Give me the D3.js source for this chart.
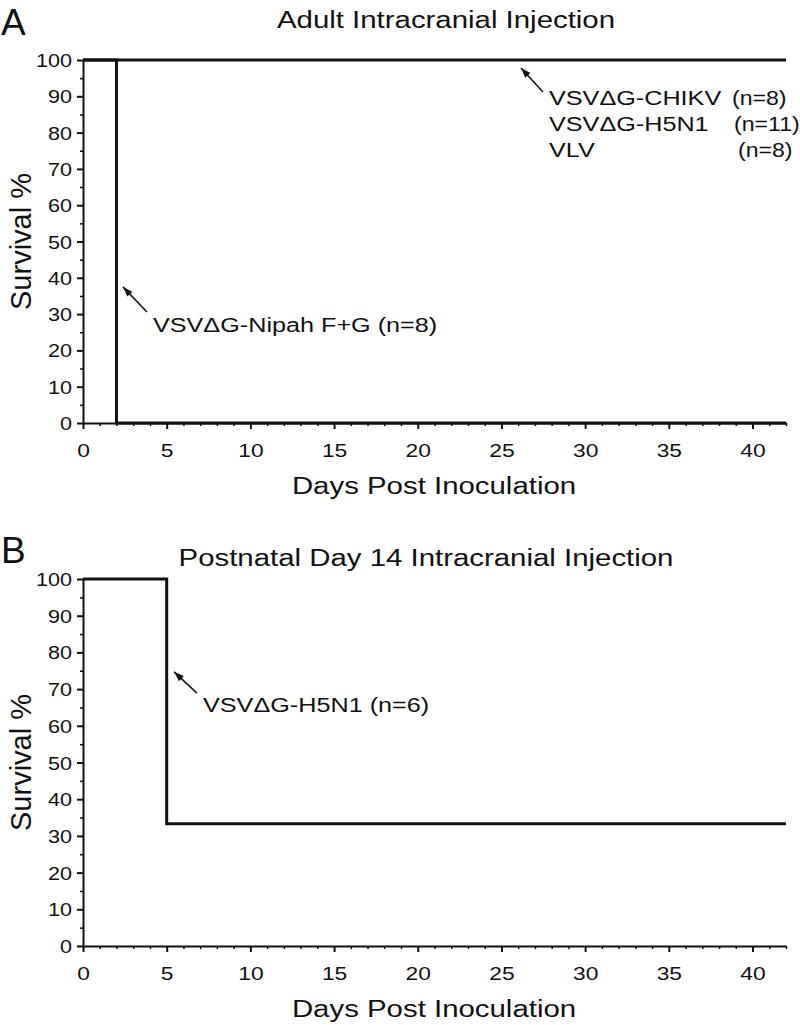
<!DOCTYPE html>
<html><head><meta charset="utf-8">
<script src="https://cdn.jsdelivr.net/npm/d3@7"></script>
<style>body{margin:0;background:#fff}svg{display:block}text{font-family:"Liberation Sans",Arial,sans-serif;fill:#111}</style>
</head><body>
<svg id="c" width="800" height="1025"></svg>
<script>
// ---- data ----
const xTicks = [0,5,10,15,20,25,30,35,40];
const yTicks = [0,10,20,30,40,50,60,70,80,90,100];
const panelTitles = ["Adult Intracranial Injection", "Postnatal Day 14 Intracranial Injection"];
const panelLetters = ["A","B"];
// Panel A survival curves: [day, survival %]
const survA_survivors = [[0,100],[42,100]];           // VSVΔG-CHIKV, VSVΔG-H5N1, VLV
const survA_nipah = [[0,100],[2,100],[2,0],[42,0]];   // VSVΔG-Nipah F+G
// Panel B
const survB_h5n1 = [[0,100],[5,100],[5,33.33],[42,33.33]];
const legendNamesA = ["VSVΔG-CHIKV","VSVΔG-H5N1","VLV"];
const legendNsA = ["(n=8)","(n=11)","(n=8)"];
const labelNipah = "VSVΔG-Nipah F+G (n=8)";
const labelB = "VSVΔG-H5N1 (n=6)";

const svg = d3.select("#c");
const SX = 1.2;

function stext(g, x, y, str, size, anchor, sx){
  return g.append("text").attr("transform",`translate(${x},${y}) scale(${sx||SX},1)`)
    .attr("font-size",size).attr("text-anchor",anchor||"start").text(str);
}
function arrow(g, x1,y1,x2,y2){
  g.append("line").attr("x1",x1).attr("y1",y1).attr("x2",x2).attr("y2",y2)
    .attr("stroke","#111").attr("stroke-width",1.5);
  const a = Math.atan2(y2-y1,x2-x1), L=10, W=3.5;
  const bx = x2 - L*Math.cos(a), by = y2 - L*Math.sin(a);
  const px = -Math.sin(a)*W, py = Math.cos(a)*W;
  g.append("path").attr("d",`M${x2},${y2}L${bx+px},${by+py}L${bx-px},${by-py}Z`).attr("fill","#111");
}

function panel(top, bottom, idx, titleX, titleY, letterY){
  const x = d3.scaleLinear().domain([0,42]).range([83,786]);
  const y = d3.scaleLinear().domain([0,100]).range([bottom, top]);
  const g = svg.append("g");
  // y axis
  const ya = g.append("g").attr("transform",`translate(${x(0)},0)`)
    .call(d3.axisLeft(y).tickValues(yTicks).tickSize(6).tickSizeOuter(0));
  ya.select(".domain").attr("stroke-width",2).attr("stroke","#111");
  ya.selectAll(".tick line").attr("stroke-width",2).attr("stroke","#111");
  ya.selectAll(".tick text").attr("x",null).attr("dy",null)
    .attr("transform",`translate(-11,6.5) scale(${SX},1)`).attr("font-size",18).attr("fill","#111");
  const ym = g.append("g").attr("transform",`translate(${x(0)},0)`)
    .call(d3.axisLeft(y).tickValues(d3.range(5,100,10)).tickSize(3).tickFormat(""));
  ym.select(".domain").remove();
  ym.selectAll(".tick line").attr("stroke-width",1.5).attr("stroke","#111");
  // x axis
  const xa = g.append("g").attr("transform",`translate(0,${y(0)})`)
    .call(d3.axisBottom(x).tickValues(xTicks).tickSize(6).tickSizeOuter(0));
  xa.select(".domain").attr("stroke-width",2).attr("stroke","#111");
  xa.selectAll(".tick line").attr("stroke-width",2).attr("stroke","#111");
  xa.selectAll(".tick text").attr("y",null).attr("dy",null)
    .attr("transform",`translate(0,34) scale(${SX},1)`).attr("font-size",19).attr("fill","#111");
  const xm = g.append("g").attr("transform",`translate(0,${y(0)})`)
    .call(d3.axisBottom(x).tickValues(d3.range(1,43).filter(d=>d%5!==0)).tickSize(3).tickFormat(""));
  xm.select(".domain").remove();
  xm.selectAll(".tick line").attr("stroke-width",1.5).attr("stroke","#111");
  // titles
  stext(g, titleX, titleY, panelTitles[idx], 24.5, "middle");
  stext(g, 434, bottom+71, "Days Post Inoculation", 24.5, "middle");
  g.append("text").attr("transform",`translate(31,${(top+bottom)/2}) rotate(-90)`)
    .attr("font-size",29).attr("text-anchor","middle").text("Survival %");
  g.append("text").attr("x",1).attr("y",letterY).attr("font-size",37).text(panelLetters[idx]);
  return {g,x,y};
}

const line = (x,y)=>d3.line().x(d=>x(d[0])).y(d=>y(d[1]));

// Panel A
const A = panel(60, 423, 0, 446, 28, 35);
A.g.append("path").datum(survA_nipah).attr("d",line(A.x,A.y)).attr("fill","none").attr("stroke","#111").attr("stroke-width",3);
A.g.append("path").datum(survA_survivors).attr("d",line(A.x,A.y)).attr("fill","none").attr("stroke","#111").attr("stroke-width",3);
arrow(A.g, A.x(27.48), A.y(91.2), A.x(26.17), A.y(97.8));
const nX = [732,734,738];
legendNamesA.forEach((n,i)=>{
  stext(A.g, A.x(27.84), A.y(87.6) + i*26, n, 21, "start", 1.2);
  stext(A.g, nX[i], A.y(87.6) + i*26, legendNsA[i], 21, "start", 1.1);
});
arrow(A.g, A.x(3.82), A.y(30.6), A.x(2.39), A.y(37.5));
stext(A.g, A.x(4.18), A.y(25.1), labelNipah, 21);

// Panel B
const B = panel(579, 946, 1, 426, 566, 563);
B.g.append("path").datum(survB_h5n1).attr("d",line(B.x,B.y)).attr("fill","none").attr("stroke","#111").attr("stroke-width",3);
arrow(B.g, B.x(6.81), B.y(68.9), B.x(5.44), B.y(74.7));
stext(B.g, B.x(7.17), B.y(63.8), labelB, 21);
</script>
</body></html>
